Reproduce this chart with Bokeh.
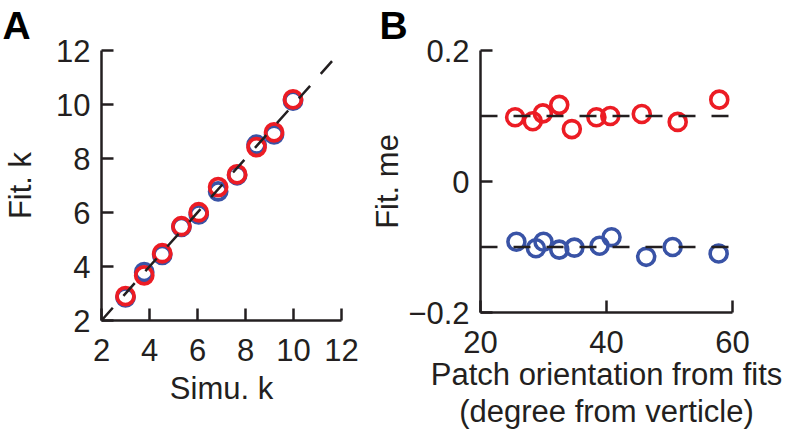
from bokeh.plotting import figure
from bokeh.layouts import row
from bokeh.models import FixedTicker, Title
from bokeh.embed import file_html
from bokeh.resources import INLINE

# ---------------- data ----------------
# Panel A
simu_k = [3.0, 3.78, 4.53, 5.33, 6.05, 6.86, 7.65, 8.46, 9.19, 9.98]
fit_k_red = [2.90, 3.67, 4.49, 5.49, 6.01, 6.94, 7.41, 8.42, 8.97, 10.19]
fit_k_blue = [2.86, 3.79, 4.43, 5.47, 5.93, 6.78, 7.38, 8.51, 8.89, 10.14]
a_ticks = [2, 4, 6, 8, 10, 12]

# Panel B
orient_red = [25.5, 28.3, 29.9, 32.5, 34.5, 38.4, 40.6, 45.6, 51.3, 57.9]
me_red = [0.098, 0.092, 0.104, 0.117, 0.080, 0.098, 0.100, 0.103, 0.091, 0.125]
orient_blue = [25.7, 28.8, 30.0, 32.5, 34.9, 38.9, 40.8, 46.3, 50.5, 57.8]
me_blue = [-0.092, -0.102, -0.092, -0.104, -0.101, -0.098, -0.085, -0.115, -0.100, -0.110]
me_ref = [0.1, -0.1]
b_xticks = [20, 40, 60]
b_yticks = [-0.2, 0, 0.2]
b_ylabels = ["\u22120.2", "0", "0.2"]

# ---------------- style ----------------
FONT = "Liberation Sans"
INK = "#231f20"
RED = "#ec1c24"
BLUE = "#3953a6"
TICK_FS = "31px"
LABEL_FS = "31px"
LETTER_FS = "39px"


def style_axis(ax, ticks, standoff, label, label_standoff, overrides=None):
    ax.ticker = FixedTicker(ticks=ticks)
    ax.axis_line_width = 2.5
    ax.axis_line_color = INK
    ax.major_tick_line_width = 2.5
    ax.major_tick_line_color = INK
    ax.major_tick_in = 12
    ax.major_tick_out = 0
    ax.minor_tick_line_color = None
    ax.major_label_text_font = FONT
    ax.major_label_text_font_size = TICK_FS
    ax.major_label_text_color = INK
    ax.major_label_standoff = standoff
    ax.axis_label = label
    ax.axis_label_text_font = FONT
    ax.axis_label_text_font_size = LABEL_FS
    ax.axis_label_text_font_style = "normal"
    ax.axis_label_text_color = INK
    ax.axis_label_standoff = label_standoff
    ax.axis_label_text_line_height = 1.06
    if overrides:
        ax.major_label_overrides = overrides


def letter(p, text, offset):
    p.add_layout(Title(text=text, align="left", offset=offset, text_font=FONT,
                       text_font_size=LETTER_FS, text_font_style="bold",
                       vertical_align="top",
                       text_color="#000000", standoff=4), "above")


# ---------------- Panel A ----------------
pA = figure(x_range=(a_ticks[0], a_ticks[-1]), y_range=(a_ticks[0], a_ticks[-1]),
            frame_width=240, frame_height=270,
            min_border_left=97, min_border_right=22, min_border_top=50, min_border_bottom=112,
            output_backend="svg", toolbar_location=None)
pA.outline_line_color = None
pA.xgrid.visible = False
pA.ygrid.visible = False
style_axis(pA.xaxis[0], a_ticks, 18, "Simu. k", 7)
style_axis(pA.yaxis[0], a_ticks, 11, "Fit. k", 15)

pA.scatter(simu_k, fit_k_blue, marker="circle", size=17, fill_color=None,
           line_color=BLUE, line_width=3.8)
pA.scatter(simu_k, fit_k_red, marker="circle", size=17, fill_color=None,
           line_color=RED, line_width=3.8)
pA.line([a_ticks[0], a_ticks[-1]], [a_ticks[0], a_ticks[-1]], line_dash="17 16",
        line_width=2.5, line_color=INK)
letter(pA, "A", -99)

# ---------------- Panel B ----------------
pB = figure(x_range=(b_xticks[0], b_xticks[-1]), y_range=(b_yticks[0], b_yticks[-1]),
            frame_width=252, frame_height=262,
            min_border_left=117, min_border_right=58, min_border_top=50, min_border_bottom=120,
            output_backend="svg", toolbar_location=None)
pB.outline_line_color = None
pB.xgrid.visible = False
pB.ygrid.visible = False
style_axis(pB.xaxis[0], b_xticks, 18,
           "Patch orientation from fits\n(degree from verticle)", 1)
style_axis(pB.yaxis[0], b_yticks, 11, "Fit. me", 0, dict(zip(b_yticks, b_ylabels)))

pB.scatter(orient_red, me_red, marker="circle", size=17, fill_color=None,
           line_color=RED, line_width=3.6)
pB.scatter(orient_blue, me_blue, marker="circle", size=17, fill_color=None,
           line_color=BLUE, line_width=3.6)
for m in me_ref:
    pB.line([b_xticks[0], b_xticks[-1]], [m, m], line_dash="17 16",
            line_width=2.5, line_color=INK)
letter(pB, "B", -101)

layout = row(pA, pB, spacing=0)
open("out.html", "w").write(file_html(layout, INLINE))
